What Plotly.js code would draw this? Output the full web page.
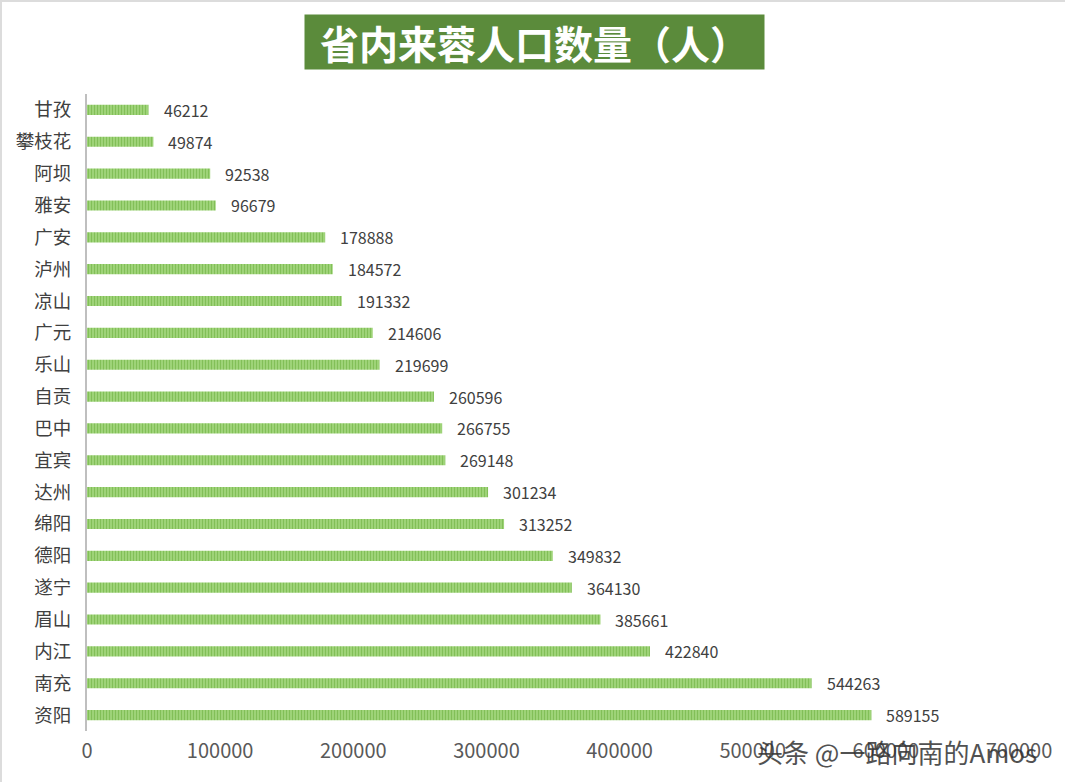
<!DOCTYPE html>
<html>
<head>
<meta charset="utf-8">
<script src="https://cdn.plot.ly/plotly-3.0.1.min.js"></script>
<style>
html,body{margin:0;padding:0;background:#fff;}
#chart{width:1065px;height:782px;box-sizing:border-box;border:2px solid #dcdcdc;}
</style>
</head>
<body>
<div id="chart"></div>
<script>
const categories = ["甘孜","攀枝花","阿坝","雅安","广安","泸州","凉山","广元","乐山","自贡","巴中","宜宾","达州","绵阳","德阳","遂宁","眉山","内江","南充","资阳"];
const values = [46212,49874,92538,96679,178888,184572,191332,214606,219699,260596,266755,269148,301234,313252,349832,364130,385661,422840,544263,589155];
const tickValues = [0,100000,200000,300000,400000,500000,600000,700000];
const titleText = "省内来蓉人口数量（人）";
const watermark = "头条 @一路向南的Amos";

const font = '"Noto Sans CJK SC", "Microsoft YaHei", sans-serif';

const trace = {
  type: "bar",
  orientation: "h",
  y: categories,
  x: values,
  marker: {
    color: "#a3d67e",
    line: {width: 0},
    pattern: {shape: "|", fgcolor: "#62a832", bgcolor: "#a3d67e", size: 3, solidity: 0.45, fillmode: "overlay"}
  },
  hoverinfo: "x+y"
};

const annotations = values.map((v, i) => ({
  x: v, y: categories[i], xref: "x", yref: "y",
  text: String(v), showarrow: false, xanchor: "left", yanchor: "middle",
  xshift: 13, font: {family: font, size: 16, color: "#404040"}
}));

annotations.push({
  xref: "paper", yref: "paper", x: 0.5, y: 1, xshift: -19, yshift: 52,
  text: "<b>" + titleText + "</b>", showarrow: false,
  xanchor: "center", yanchor: "middle",
  font: {family: font, size: 39, color: "#ffffff"},
  bgcolor: "#5b8b3b", width: 459, height: 54, borderpad: 0
});

annotations.push({
  xref: "paper", yref: "paper", x: 0.869, y: 0, yshift: -20,
  text: watermark, showarrow: false, xanchor: "center", yanchor: "middle",
  font: {family: font, size: 26, color: "#333333"}, opacity: 0.85
});

const layout = {
  width: 1065, height: 782,
  margin: {l: 85, r: 48, t: 92, b: 53},
  paper_bgcolor: "#ffffff", plot_bgcolor: "#ffffff",
  bargap: 0.68,
  showlegend: false,
  xaxis: {
    range: [0, 700000], tickvals: tickValues, ticktext: tickValues.map(String),
    showgrid: false, zeroline: false, showline: false, ticks: "",
    tickfont: {family: font, size: 20, color: "#595959"}, ticklabelstandoff: 6,
    fixedrange: true
  },
  yaxis: {
    type: "category", autorange: "reversed",
    showgrid: false, zeroline: false, showline: true, linecolor: "#bfbfbf", linewidth: 2,
    ticks: "", tickfont: {family: font, size: 18.5, color: "#404040"}, ticklabelstandoff: 10,
    fixedrange: true
  },
  annotations: annotations
};

Plotly.newPlot("chart", [trace], layout, {displayModeBar: false, staticPlot: true});
</script>
</body>
</html>
